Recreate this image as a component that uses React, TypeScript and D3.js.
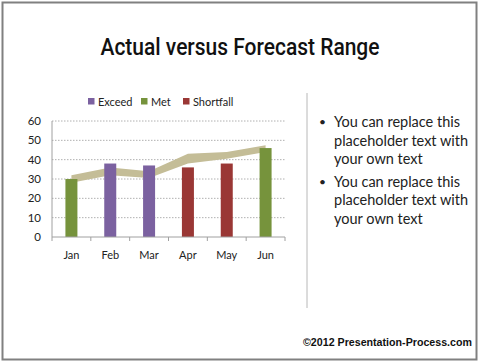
import React from "react";
import * as d3 from "d3";

const categories = ["Jan", "Feb", "Mar", "Apr", "May", "Jun"];
const actual = [30, 38, 37, 36, 38, 46];
const status = ["Met", "Exceed", "Exceed", "Shortfall", "Shortfall", "Met"];
const rangeLow = [28, 32, 30.5, 38, 40.5, 44];
const rangeHigh = [32, 36, 34, 43, 44, 47.5];
const yTicks = [0, 10, 20, 30, 40, 50, 60];
const legendItems = ["Exceed", "Met", "Shortfall"];
const bulletLines = [
  ["You can replace this", "placeholder text with", "your own text"],
  ["You can replace this", "placeholder text with", "your own text"],
];

const colors: Record<string, string> = {
  Exceed: "#7b61a0",
  Met: "#76933c",
  Shortfall: "#9a3735",
};

export default function App() {
  const x = d3.scaleBand().domain(categories).range([52, 285]).padding(0);
  const y = d3.scaleLinear().domain([0, 60]).range([237, 121]);
  const barW = 12;
  const cx = (c: string) => (x(c) as number) + x.bandwidth() / 2;

  const area = d3
    .area<number>()
    .x((_, i) => cx(categories[i]))
    .y0((_, i) => y(rangeLow[i]))
    .y1((_, i) => y(rangeHigh[i]));

  const font = "Lato, 'Open Sans', sans-serif";
  const legendX = [88, 141, 183];

  return (
    <svg
      width={480}
      height={362}
      style={{ position: "absolute", left: 0, top: 0, background: "#fff" }}
    >
      <rect x={0} y={0} width={480} height={362} fill="#fff" />
      <rect x={2.5} y={2.5} width={474} height={357} fill="none" stroke="#808080" strokeWidth={2} />
      <text
        x={240}
        y={55}
        textAnchor="middle"
        fontFamily="Roboto, 'Liberation Sans', sans-serif"
        fontWeight={500}
        fontSize={24}
        fill="#111"
        textLength={279}
        lengthAdjust="spacingAndGlyphs"
      >
        Actual versus Forecast Range
      </text>

      {/* legend */}
      {legendItems.map((k, i) => (
        <g key={k}>
          <rect x={legendX[i]} y={98} width={6.5} height={6.5} fill={colors[k]} />
          <text x={legendX[i] + 10} y={105.5} fontFamily={font} fontSize={11} fill="#222">
            {k}
          </text>
        </g>
      ))}

      {/* gridlines */}
      {yTicks.slice(1).map((t) => (
        <line
          key={t}
          x1={52}
          x2={285}
          y1={y(t)}
          y2={y(t)}
          stroke="#b0b0b0"
          strokeWidth={1}
          strokeDasharray="1.5,1.5"
        />
      ))}
      {yTicks.map((t) => (
        <text
          key={t}
          x={41}
          y={y(t) + 4}
          textAnchor="end"
          fontFamily={font}
          fontSize={11.5}
          fill="#222"
        >
          {t}
        </text>
      ))}

      {/* range band */}
      <path d={area(actual) || ""} fill="#c4bd97" />

      {/* bars */}
      {categories.map((c, i) => (
        <rect
          key={c}
          x={cx(c) - barW / 2}
          y={y(actual[i])}
          width={barW}
          height={y(0) - y(actual[i])}
          fill={colors[status[i]]}
        />
      ))}

      {/* axes */}
      <line x1={52} x2={52} y1={121} y2={237} stroke="#a0a0a0" strokeWidth={1} />
      <line x1={52} x2={285} y1={237} y2={237} stroke="#a0a0a0" strokeWidth={1} />
      {categories.concat(["end"]).map((c, i) => {
        const xx = 52 + i * x.bandwidth();
        return <line key={i} x1={xx} x2={xx} y1={237} y2={241} stroke="#a0a0a0" strokeWidth={1} />;
      })}
      {categories.map((c) => (
        <text key={c} x={cx(c)} y={259} textAnchor="middle" fontFamily={font} fontSize={11} fill="#222">
          {c}
        </text>
      ))}

      {/* separator */}
      <line x1={307} x2={307} y1={93} y2={308} stroke="#b8b8b8" strokeWidth={1} />

      {/* bullets */}
      {bulletLines.map((lines, bi) => (
        <g key={bi}>
          <text x={319} y={126 + bi * 59.5} fontFamily={font} fontSize={12} fill="#222">
            •
          </text>
          {lines.map((l, li) => (
            <text
              key={li}
              x={334}
              y={127 + bi * 59.5 + li * 18.5}
              fontFamily={font}
              fontSize={14.5}
              fill="#222"
            >
              {l}
            </text>
          ))}
        </g>
      ))}

      <text
        x={303}
        y={346}
        fontFamily="'Liberation Sans', Arial, sans-serif"
        fontWeight="bold"
        fontSize={10}
        fill="#111"
        textLength={169}
        lengthAdjust="spacingAndGlyphs"
      >
        ©2012 Presentation-Process.com
      </text>
    </svg>
  );
}
